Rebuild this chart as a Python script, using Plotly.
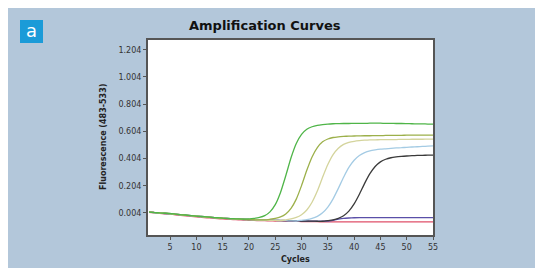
import plotly.graph_objects as go

cycles = list(range(1, 56))

green = [0.010, 0.007, 0.004, 0.002, 0.000, -0.004, -0.008, -0.011, -0.015, -0.019,
         -0.022, -0.025, -0.028, -0.031, -0.034, -0.036, -0.038, -0.040, -0.041, -0.040,
         -0.036, -0.029, -0.016, 0.012, 0.065, 0.155, 0.278, 0.410, 0.515, 0.582,
         0.620, 0.638, 0.648, 0.654, 0.658, 0.660, 0.661, 0.662, 0.662, 0.663,
         0.663, 0.663, 0.664, 0.664, 0.664, 0.663, 0.663, 0.662, 0.662, 0.661,
         0.660, 0.659, 0.659, 0.658, 0.658]

olive = [0.012, 0.008, 0.005, 0.002, -0.001, -0.005, -0.009, -0.012, -0.016, -0.020,
         -0.023, -0.026, -0.029, -0.032, -0.035, -0.037, -0.039, -0.041, -0.043, -0.045,
         -0.046, -0.047, -0.047, -0.042, -0.036, -0.025, -0.003, 0.038, 0.106, 0.205,
         0.318, 0.416, 0.485, 0.527, 0.548, 0.559, 0.564, 0.567, 0.569, 0.570,
         0.571, 0.572, 0.572, 0.573, 0.573, 0.574, 0.574, 0.575, 0.575, 0.576,
         0.576, 0.576, 0.577, 0.577, 0.577]

tan = [0.009, 0.006, 0.003, 0.001, -0.002, -0.006, -0.009, -0.013, -0.017, -0.020,
       -0.024, -0.027, -0.030, -0.033, -0.035, -0.038, -0.040, -0.042, -0.044, -0.045,
       -0.047, -0.048, -0.049, -0.050, -0.051, -0.052, -0.046, -0.040, -0.029, -0.009,
       0.026, 0.083, 0.165, 0.266, 0.360, 0.433, 0.480, 0.508, 0.523, 0.531,
       0.536, 0.539, 0.541, 0.542, 0.543, 0.543, 0.544, 0.544, 0.545, 0.545,
       0.546, 0.546, 0.546, 0.547, 0.547]

light_blue = [0.011, 0.007, 0.004, 0.001, -0.002, -0.005, -0.009, -0.012, -0.016, -0.019,
              -0.023, -0.026, -0.029, -0.032, -0.034, -0.037, -0.039, -0.041, -0.043, -0.045,
              -0.046, -0.048, -0.049, -0.050, -0.051, -0.052, -0.053, -0.054, -0.055, -0.050,
              -0.045, -0.036, -0.021, 0.005, 0.047, 0.108, 0.185, 0.267, 0.339, 0.392,
              0.427, 0.448, 0.461, 0.468, 0.473, 0.476, 0.479, 0.482, 0.484, 0.487,
              0.489, 0.491, 0.493, 0.495, 0.497]

black = [0.012, 0.008, 0.005, 0.002, -0.001, -0.005, -0.008, -0.012, -0.015, -0.019,
         -0.022, -0.025, -0.028, -0.031, -0.034, -0.036, -0.038, -0.040, -0.042, -0.044,
         -0.045, -0.047, -0.048, -0.049, -0.050, -0.051, -0.052, -0.053, -0.054, -0.055,
         -0.056, -0.056, -0.057, -0.057, -0.052, -0.046, -0.035, -0.016, 0.018, 0.071,
         0.142, 0.222, 0.293, 0.346, 0.380, 0.399, 0.410, 0.416, 0.420, 0.423,
         0.425, 0.427, 0.428, 0.429, 0.430]

purple = [0.010, 0.006, 0.003, 0.000, -0.003, -0.007, -0.010, -0.014, -0.017, -0.021,
          -0.024, -0.027, -0.030, -0.033, -0.035, -0.038, -0.040, -0.042, -0.044, -0.045,
          -0.047, -0.048, -0.049, -0.050, -0.051, -0.052, -0.053, -0.054, -0.054, -0.055,
          -0.055, -0.056, -0.056, -0.056, -0.055, -0.050, -0.042, -0.036, -0.033, -0.031,
          -0.030, -0.030, -0.030, -0.030, -0.030, -0.030, -0.030, -0.030, -0.030, -0.030,
          -0.030, -0.030, -0.030, -0.030, -0.030]

red = [0.008, 0.004, 0.001, -0.002, -0.005, -0.009, -0.013, -0.017, -0.021, -0.025,
       -0.028, -0.031, -0.034, -0.037, -0.040, -0.042, -0.044, -0.046, -0.048, -0.050,
       -0.051, -0.052, -0.053, -0.054, -0.055, -0.056, -0.057, -0.058, -0.058, -0.059,
       -0.059, -0.060, -0.060, -0.061, -0.061, -0.061, -0.061, -0.061, -0.061, -0.061,
       -0.061, -0.061, -0.062, -0.062, -0.062, -0.062, -0.062, -0.062, -0.062, -0.062,
       -0.062, -0.062, -0.062, -0.062, -0.062]

series = [
    ("red", red, "#e0506a"),
    ("purple", purple, "#5a4fa8"),
    ("black", black, "#3a3a3a"),
    ("light_blue", light_blue, "#a4cbe4"),
    ("tan", tan, "#d4d49c"),
    ("olive", olive, "#9cb04a"),
    ("green", green, "#4fb548"),
]

y_tickvals = [0.004, 0.204, 0.404, 0.604, 0.804, 1.004, 1.204]
y_ticktext = ["0.004", "0.204", "0.404", "0.604", "0.804", "1.004", "1.204"]
x_tickvals = [5, 10, 15, 20, 25, 30, 35, 40, 45, 50, 55]

fig = go.Figure()
for name, vals, col in series:
    fig.add_trace(go.Scatter(x=cycles, y=vals, mode="lines", name=name,
                             line=dict(color=col, width=1.3, shape="spline", smoothing=0.6),
                             showlegend=False, hoverinfo="skip"))

# page body adds an 8px offset; figure coordinates = screen coordinates - 8
OFF = 8
W, H = 543, 268
L, T = 148 - OFF, 40 - OFF
pw, ph = 285, 195
R = W - L - pw
B = H - T - ph

def px(x):
    return (x - OFF - L) / pw

def py(y):
    return (T + ph - (y - OFF)) / ph

bg = "#b3c7da"

fig.update_layout(
    width=W, height=H,
    margin=dict(l=L, r=R, t=T, b=B, pad=0),
    paper_bgcolor=bg, plot_bgcolor="white",
    font=dict(family="DejaVu Sans", color="#333"),
    xaxis=dict(range=[0.8, 55], tickvals=x_tickvals, ticks="outside", ticklen=3,
               tickcolor="#555", showgrid=False, zeroline=False, showline=True,
               linecolor="#555", linewidth=2, mirror=True,
               tickfont=dict(size=8, color="#333")),
    yaxis=dict(range=[-0.158, 1.276], tickvals=y_tickvals, ticktext=y_ticktext,
               ticks="outside", ticklen=3, tickcolor="#555", showgrid=False,
               zeroline=False, showline=True, linecolor="#555", linewidth=2, mirror=True,
               tickfont=dict(size=8, color="#333")),
    shapes=[
        dict(type="rect", xref="paper", yref="paper", x0=px(20), x1=px(43), y0=py(43), y1=py(20),
             fillcolor="#1b9bd8", line=dict(width=0), layer="below"),
    ],
    annotations=[
        dict(text="a", x=px(31.5), y=py(31), xref="paper", yref="paper", showarrow=False,
             font=dict(family="DejaVu Sans", size=18, color="white"), xanchor="center", yanchor="middle"),
        dict(text="<b>Amplification Curves</b>", x=px(265), y=py(25), xref="paper", yref="paper",
             showarrow=False, font=dict(family="DejaVu Sans", size=13, color="#111"),
             xanchor="center", yanchor="middle"),
        dict(text="<b>Fluorescence (483-533)</b>", x=px(103), y=py(137), xref="paper", yref="paper",
             showarrow=False, textangle=-90, font=dict(family="DejaVu Sans", size=8, color="#222"),
             xanchor="center", yanchor="middle"),
        dict(text="<b>Cycles</b>", x=px(295), y=py(259), xref="paper", yref="paper",
             showarrow=False, font=dict(family="DejaVu Sans", size=8, color="#222"),
             xanchor="center", yanchor="middle"),
    ],
)

fig.write_html("out.html")
